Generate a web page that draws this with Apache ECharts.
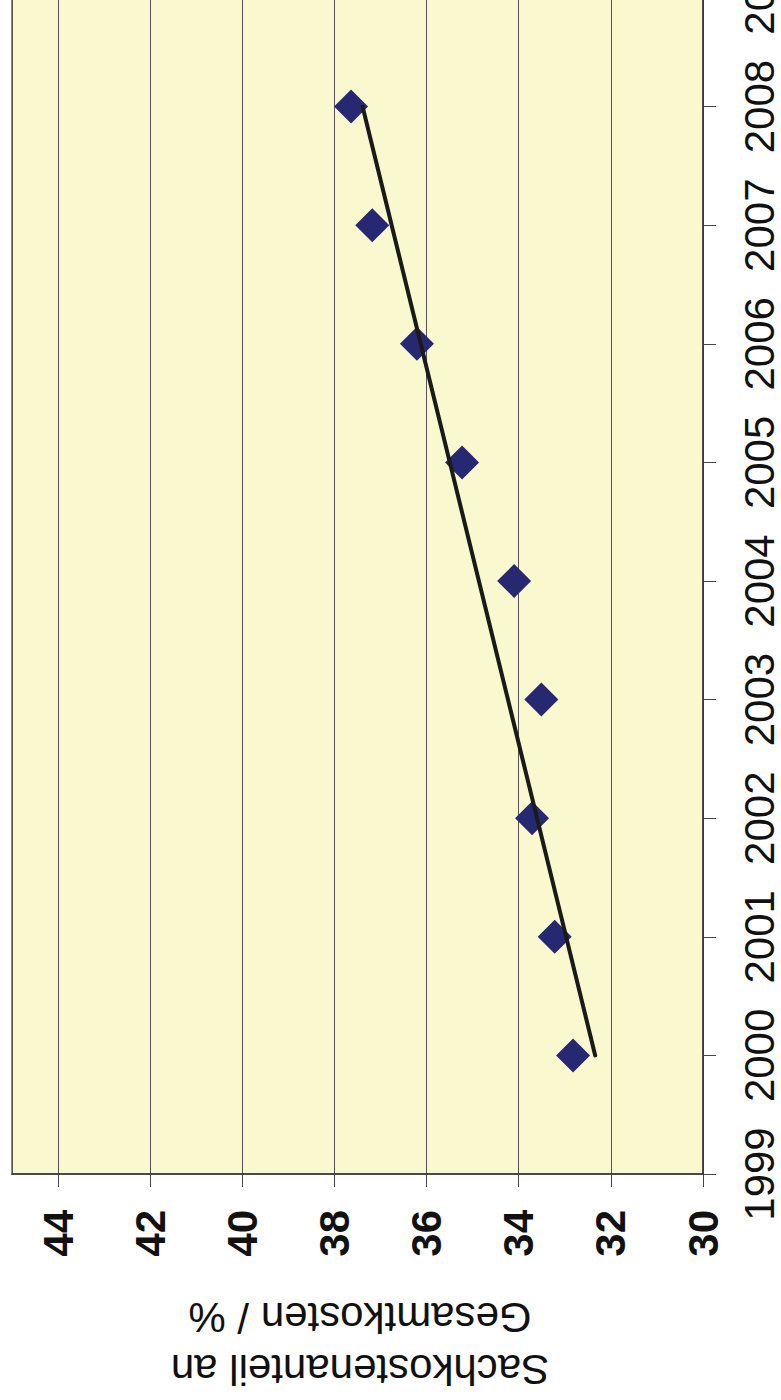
<!DOCTYPE html>
<html>
<head>
<meta charset="utf-8">
<script src="https://cdn.jsdelivr.net/npm/echarts@6/dist/echarts.min.js"></script>
<style>
html,body{margin:0;padding:0;background:#fff;}
#chart{width:781px;height:1400px;}
</style>
</head>
<body>
<div id="chart"></div>
<script>
// Data
var years = [2000, 2001, 2002, 2003, 2004, 2005, 2006, 2007, 2008];
var shares = [32.82, 33.22, 33.71, 33.51, 34.10, 35.23, 36.21, 37.18, 37.64];
var trendYears = [2000, 2008];
var trendValues = [32.34, 37.39];
var valueTicks = [30, 32, 34, 36, 38, 40, 42, 44];
var yearTicks = [1999, 2000, 2001, 2002, 2003, 2004, 2005, 2006, 2007, 2008, 2009];
var titleLines = ['Sachkostenanteil an', 'Gesamtkosten / %'];

var FONT = '"Liberation Sans", Arial, Helvetica, sans-serif';

var scatterData = years.map(function (y, i) { return [shares[i], y]; });
var trendData = trendYears.map(function (y, i) { return [trendValues[i], y]; });

var chart = echarts.init(document.getElementById('chart'), null, { renderer: 'svg' });
chart.setOption({
  animation: false,
  backgroundColor: '#ffffff',
  grid: {
    left: 12, right: 78, top: -12, bottom: 226,
    containLabel: false, outerBoundsMode: 'none',
    show: true, backgroundColor: '#FAF8CF', borderColor: '#8a8a8a', borderWidth: 2
  },
  xAxis: {
    type: 'value', min: valueTicks[0], max: 45, interval: 2, inverse: true, position: 'bottom',
    axisLine: { show: true, lineStyle: { color: '#333', width: 1.5 } },
    axisTick: { show: true, inside: false, length: 13, lineStyle: { color: '#444', width: 1 } },
    axisLabel: {
      rotate: 90, margin: 36, fontSize: 42, fontWeight: 'bold', color: '#111', fontFamily: FONT,
      showMaxLabel: false, hideOverlap: false,
      formatter: function (v) { return valueTicks.indexOf(v) >= 0 ? String(v) : ''; }
    },
    splitLine: { show: true, lineStyle: { color: '#555', width: 1 } }
  },
  yAxis: {
    type: 'value', min: yearTicks[0], max: yearTicks[yearTicks.length - 1], interval: 1, position: 'right',
    axisLine: { show: true, lineStyle: { color: '#333', width: 1.5 } },
    axisTick: { show: true, inside: false, length: 13, lineStyle: { color: '#444', width: 1 } },
    axisLabel: {
      rotate: 90, margin: 35, fontSize: 42, color: '#111', fontFamily: FONT, hideOverlap: false,
      formatter: function (v) { return String(v); }
    },
    splitLine: { show: false }
  },
  graphic: [{
    type: 'text', x: 360, y: 1343, rotation: Math.PI,
    style: {
      text: titleLines.join('\n'), font: '42px ' + FONT, fill: '#111',
      textAlign: 'center', textVerticalAlign: 'middle', lineHeight: 52
    }
  }],
  series: [
    {
      type: 'line', data: trendData, symbol: 'none',
      lineStyle: { color: '#1a1a1a', width: 4, cap: 'round' }, z: 3
    },
    {
      type: 'scatter', data: scatterData, symbol: 'diamond', symbolSize: 34,
      itemStyle: { color: '#272872', opacity: 1 }, z: 2
    }
  ]
});
</script>
</body>
</html>
